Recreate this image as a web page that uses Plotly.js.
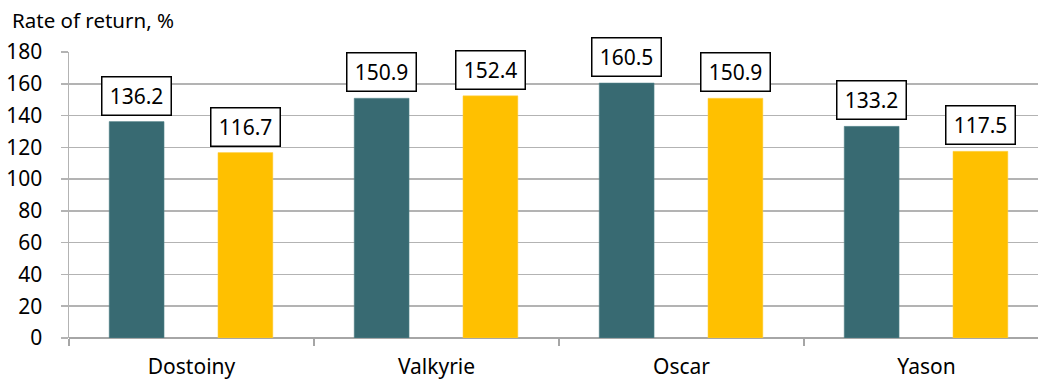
<!DOCTYPE html>
<html>
<head>
<meta charset="utf-8">
<script src="https://cdn.plot.ly/plotly-3.0.1.min.js"></script>
<style>html,body{margin:0;padding:0;background:#fff;}#chart{width:1038px;height:383px;}</style>
</head>
<body>
<div id="chart"></div>
<script>
const categories = ["Dostoiny", "Valkyrie", "Oscar", "Yason"];
const seriesA = [136.2, 150.9, 160.5, 133.2];
const seriesB = [116.7, 152.4, 150.9, 117.5];
const yTicks = [0, 20, 40, 60, 80, 100, 120, 140, 160, 180];
const yTitle = "Rate of return, %";

const FONT = "Noto Sans, Open Sans, sans-serif";
const barW = 0.224;
const offA = -0.336, offB = 0.108;
const catPx = 245;

const traces = [
  {type: "bar", name: "A", x: categories, y: seriesA, width: barW, offset: offA,
   marker: {color: "#386A72", line: {color: "#5a8a90", width: 0.5}}, hoverinfo: "none"},
  {type: "bar", name: "B", x: categories, y: seriesB, width: barW, offset: offB,
   marker: {color: "#FFC000", line: {color: "#ffd24d", width: 0.5}}, hoverinfo: "none"}
];

const annotations = [];
function addLabels(vals, off) {
  const shift = (off + barW / 2) * catPx;
  vals.forEach((v, i) => {
    annotations.push({
      x: categories[i], y: v, xref: "x", yref: "y",
      text: v.toFixed(1), showarrow: false,
      xanchor: "center", yanchor: "bottom", xshift: shift, yshift: 6,
      font: {family: FONT, size: 21, color: "#000"},
      bgcolor: "#fff", bordercolor: "#000", borderwidth: 1.5, borderpad: 2,
      width: 64, height: 33
    });
  });
}
addLabels(seriesA, offA);
addLabels(seriesB, offB);
annotations.push({
  xref: "paper", yref: "paper", x: 0, y: 1, xshift: -59, yshift: 32,
  xanchor: "left", yanchor: "middle", showarrow: false,
  text: yTitle, font: {family: FONT, size: 20.5, color: "#000"}
});

const layout = {
  width: 1038, height: 383,
  margin: {l: 69, r: 0, t: 52, b: 45},
  paper_bgcolor: "#fff", plot_bgcolor: "#fff",
  showlegend: false,
  font: {family: FONT, size: 21, color: "#000"},
  xaxis: {
    type: "category", range: [-0.5, 3.455],
    showgrid: false, zeroline: false,
    showline: false,
    ticks: "outside", tickson: "boundaries", ticklen: 7, tickcolor: "#a6a6a6", tickwidth: 1.5,
    ticklabelstandoff: 14,
    tickfont: {family: FONT, size: 21, color: "#000"}
  },
  yaxis: {
    range: [0, 180], tickvals: yTicks, ticktext: yTicks.map(String),
    showgrid: true, gridcolor: "#b3b3b3", gridwidth: 1.5,
    zeroline: true, zerolinecolor: "#a6a6a6", zerolinewidth: 1.5,
    showline: true, linecolor: "#b3b3b3", linewidth: 1.5,
    ticks: "outside", ticklen: 7, tickcolor: "#b3b3b3", tickwidth: 1.5,
    ticklabelstandoff: 14,
    tickfont: {family: FONT, size: 21, color: "#000"}
  },
  annotations: annotations
};

Plotly.newPlot("chart", traces, layout, {displayModeBar: false, staticPlot: true});
</script>
</body>
</html>
